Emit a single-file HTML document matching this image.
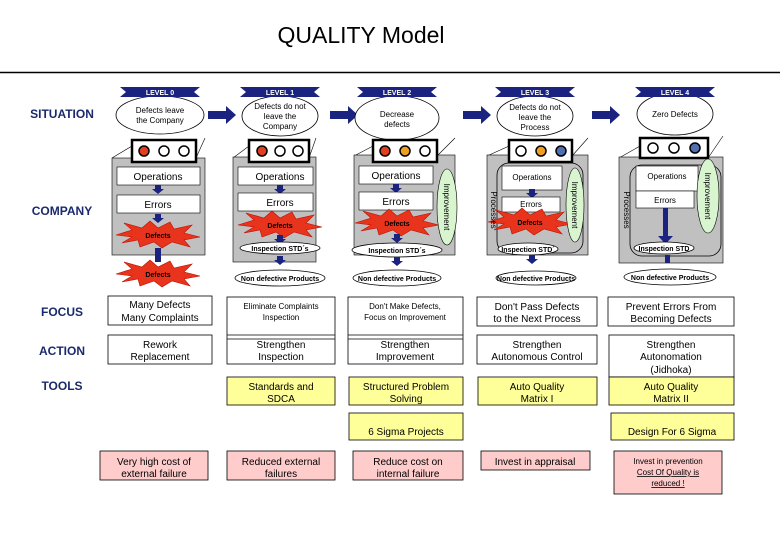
<!DOCTYPE html>
<html><head><meta charset="utf-8"><style>
html,body{margin:0;padding:0;background:#fff;}
svg{display:block;font-family:"Liberation Sans",sans-serif;}
.s{font-size:8px;fill:#000;text-anchor:middle;}
.m{font-size:10px;fill:#000;text-anchor:middle;}
.b{font-size:7px;font-weight:bold;fill:#000;text-anchor:middle;}
.lv{font-size:7px;font-weight:bold;fill:#fff;text-anchor:middle;}
.lab{font-size:12px;font-weight:bold;fill:#1a2a6c;text-anchor:middle;}
</style></head><body>
<svg width="780" height="540" viewBox="0 0 780 540">
<defs>
<polygon id="star" points="-42,0 -26,-5 -34,-12 -16,-7 -8,-14 0,-7 12,-13 16,-6 34,-10 26,-2 42,2 26,5 32,12 14,7 4,13 -4,7 -18,12 -20,5 -36,8 -26,2" fill="#e8341c" stroke="#c01000" stroke-width="0.6"/>
<polygon id="rib" points="-40,0 40,0 34,5 40,10 -40,10 -34,5" fill="#1a2480"/>
<polygon id="arr" points="0,-4 18,-4 18,-9 28,0 18,9 18,4 0,4" fill="#1a2480"/>
<polygon id="dn" points="-3,0 3,0 3,4 6,4 0,9 -6,4 -3,4" fill="#1a2480"/>
</defs>
<text x="361" y="43" font-size="23" text-anchor="middle" fill="#000">QUALITY Model</text>
<line x1="0" y1="72.5" x2="780" y2="72.5" stroke="#000" stroke-width="1.5"/>

<text class="lab" x="62" y="118">SITUATION</text>
<text class="lab" x="62" y="215">COMPANY</text>
<text class="lab" x="62" y="316">FOCUS</text>
<text class="lab" x="62" y="355">ACTION</text>
<text class="lab" x="62" y="390">TOOLS</text>

<use href="#arr" x="208" y="115"/>
<use href="#arr" x="330" y="115"/>
<use href="#arr" x="463" y="115"/>
<use href="#arr" x="592" y="115"/>

<!-- LEVEL 0 -->
<ellipse cx="160" cy="115" rx="44" ry="19" fill="#fff" stroke="#000" stroke-width="0.8"/>
<use href="#rib" x="160" y="87"/><text class="lv" x="160" y="95">LEVEL 0</text>
<text class="s" x="160" y="113">Defects leave</text><text class="s" x="160" y="123">the Company</text>
<line x1="112" y1="158" x2="132" y2="146" stroke="#000" stroke-width="0.6"/>
<line x1="196" y1="158" x2="205" y2="138" stroke="#000" stroke-width="0.6"/>
<rect x="112" y="158" width="93" height="97" fill="#c0c0c0" stroke="#000" stroke-width="0.6"/>
<rect x="132" y="140" width="64" height="22" fill="#fff" stroke="#000" stroke-width="2.5"/>
<circle cx="144" cy="151" r="5" fill="#e04020" stroke="#000" stroke-width="1.5"/>
<circle cx="164" cy="151" r="5" fill="#fff" stroke="#000" stroke-width="1.5"/>
<circle cx="184" cy="151" r="5" fill="#fff" stroke="#000" stroke-width="1.5"/>
<rect x="117" y="167" width="83" height="18" fill="#fff" stroke="#000" stroke-width="0.6"/><text class="m" x="158" y="180">Operations</text>
<use href="#dn" x="158" y="185"/>
<rect x="117" y="195" width="83" height="18" fill="#fff" stroke="#000" stroke-width="0.6"/><text class="m" x="158" y="208">Errors</text>
<use href="#dn" x="158" y="214"/>
<use href="#star" x="158" y="235"/>
<text class="b" x="158" y="238">Defects</text>
<rect x="155" y="248" width="6" height="14" fill="#1a2480"/>
<use href="#star" x="158" y="274"/>
<text class="b" x="158" y="277">Defects</text>

<!-- LEVEL 1 -->
<ellipse cx="280" cy="116" rx="38" ry="20" fill="#fff" stroke="#000" stroke-width="0.8"/>
<use href="#rib" x="280" y="87"/><text class="lv" x="280" y="95">LEVEL 1</text>
<text class="s" x="280" y="109">Defects do not</text><text class="s" x="280" y="119">leave the</text><text class="s" x="280" y="129">Company</text>
<line x1="233" y1="158" x2="249" y2="146" stroke="#000" stroke-width="0.6"/>
<line x1="309" y1="158" x2="316" y2="138" stroke="#000" stroke-width="0.6"/>
<rect x="233" y="157" width="83" height="105" fill="#c0c0c0" stroke="#000" stroke-width="0.6"/>
<rect x="249" y="140" width="60" height="22" fill="#fff" stroke="#000" stroke-width="2.5"/>
<circle cx="262" cy="151" r="5" fill="#e04020" stroke="#000" stroke-width="1.5"/>
<circle cx="280" cy="151" r="5" fill="#fff" stroke="#000" stroke-width="1.5"/>
<circle cx="298" cy="151" r="5" fill="#fff" stroke="#000" stroke-width="1.5"/>
<rect x="238" y="167" width="75" height="18" fill="#fff" stroke="#000" stroke-width="0.6"/><text class="m" x="280" y="180">Operations</text>
<use href="#dn" x="280" y="185"/>
<rect x="238" y="193" width="75" height="18" fill="#fff" stroke="#000" stroke-width="0.6"/><text class="m" x="280" y="206">Errors</text>
<use href="#star" x="280" y="225"/><text class="b" x="280" y="228">Defects</text>
<use href="#dn" x="280" y="235"/>
<ellipse cx="280" cy="248" rx="40" ry="6" fill="#fff" stroke="#000" stroke-width="0.8"/><text class="b" x="280" y="251">Inspection STD´s</text>
<use href="#dn" x="280" y="256"/>
<ellipse cx="280" cy="278" rx="45" ry="8" fill="#fff" stroke="#000" stroke-width="0.8"/><text class="b" x="280" y="281">Non defective Products</text>

<!-- LEVEL 2 -->
<ellipse cx="397" cy="118" rx="42" ry="22" fill="#fff" stroke="#000" stroke-width="0.8"/>
<use href="#rib" x="397" y="87"/><text class="lv" x="397" y="95">LEVEL 2</text>
<text class="s" x="397" y="117">Decrease</text><text class="s" x="397" y="127">defects</text>
<line x1="354" y1="156" x2="373" y2="146" stroke="#000" stroke-width="0.6"/>
<line x1="437" y1="156" x2="455" y2="138" stroke="#000" stroke-width="0.6"/>
<rect x="354" y="155" width="101" height="100" fill="#c0c0c0" stroke="#000" stroke-width="0.6"/>
<rect x="373" y="140" width="64" height="22" fill="#fff" stroke="#000" stroke-width="2.5"/>
<circle cx="385" cy="151" r="5" fill="#e04020" stroke="#000" stroke-width="1.5"/>
<circle cx="405" cy="151" r="5" fill="#f0a020" stroke="#000" stroke-width="1.5"/>
<circle cx="425" cy="151" r="5" fill="#fff" stroke="#000" stroke-width="1.5"/>
<rect x="359" y="166" width="74" height="18" fill="#fff" stroke="#000" stroke-width="0.6"/><text class="m" x="396" y="179">Operations</text>
<use href="#dn" x="396" y="184"/>
<rect x="359" y="192" width="74" height="18" fill="#fff" stroke="#000" stroke-width="0.6"/><text class="m" x="396" y="205">Errors</text>
<use href="#star" x="397" y="223"/><text class="b" x="397" y="226">Defects</text>
<use href="#dn" x="397" y="234"/>
<ellipse cx="447" cy="207" rx="10" ry="38" fill="#d8f5d0" stroke="#000" stroke-width="0.6"/>
<text class="s" transform="translate(444,207) rotate(90)">Improvement</text>
<ellipse cx="397" cy="250" rx="45" ry="7" fill="#fff" stroke="#000" stroke-width="0.8"/><text class="b" x="397" y="253">Inspection STD´s</text>
<use href="#dn" x="397" y="257"/>
<ellipse cx="397" cy="278" rx="44" ry="8" fill="#fff" stroke="#000" stroke-width="0.8"/><text class="b" x="397" y="281">Non defective Products</text>

<!-- LEVEL 3 -->
<ellipse cx="535" cy="116" rx="38" ry="20" fill="#fff" stroke="#000" stroke-width="0.8"/>
<use href="#rib" x="535" y="87"/><text class="lv" x="535" y="95">LEVEL 3</text>
<text class="s" x="535" y="110">Defects do not</text><text class="s" x="535" y="120">leave the</text><text class="s" x="535" y="130">Process</text>
<line x1="487" y1="156" x2="509" y2="146" stroke="#000" stroke-width="0.6"/>
<line x1="572" y1="156" x2="588" y2="138" stroke="#000" stroke-width="0.6"/>
<rect x="487" y="155" width="101" height="100" fill="#c0c0c0" stroke="#000" stroke-width="0.6"/>
<rect x="497" y="163" width="86" height="90" rx="12" fill="none" stroke="#000" stroke-width="0.8"/>
<rect x="509" y="140" width="63" height="22" fill="#fff" stroke="#000" stroke-width="2.5"/>
<circle cx="521" cy="151" r="5" fill="#fff" stroke="#000" stroke-width="1.5"/>
<circle cx="541" cy="151" r="5" fill="#f0a020" stroke="#000" stroke-width="1.5"/>
<circle cx="561" cy="151" r="5" fill="#5070b0" stroke="#000" stroke-width="1.5"/>
<rect x="502" y="166" width="60" height="24" fill="#fff" stroke="#000" stroke-width="0.6"/><text class="s" x="532" y="180">Operations</text>
<use href="#dn" x="532" y="189"/>
<rect x="502" y="197" width="58" height="15" fill="#fff" stroke="#000" stroke-width="0.6"/><text class="s" x="531" y="207">Errors</text>
<use href="#star" x="530" y="222"/><text class="b" x="530" y="225">Defects</text>
<ellipse cx="575" cy="205" rx="9" ry="37" fill="#d8f5d0" stroke="#000" stroke-width="0.6"/>
<text class="s" transform="translate(572,205) rotate(90)">Improvement</text>
<text class="s" transform="translate(491,210) rotate(90)">Processes</text>
<ellipse cx="528" cy="249" rx="30" ry="6" fill="#fff" stroke="#000" stroke-width="0.8"/><text class="b" x="528" y="252">Inspection STD´</text>
<use href="#dn" x="532" y="255"/>
<ellipse cx="536" cy="278" rx="40" ry="7" fill="#fff" stroke="#000" stroke-width="0.8"/><text class="b" x="536" y="281">Non defective Products</text>

<!-- LEVEL 4 -->
<ellipse cx="675" cy="114" rx="38" ry="21" fill="#fff" stroke="#000" stroke-width="0.8"/>
<use href="#rib" x="675" y="87"/><text class="lv" x="675" y="95">LEVEL 4</text>
<text class="s" x="675" y="117">Zero Defects</text>
<line x1="619" y1="158" x2="640" y2="146" stroke="#000" stroke-width="0.6"/>
<line x1="708" y1="158" x2="723" y2="136" stroke="#000" stroke-width="0.6"/>
<rect x="619" y="157" width="104" height="106" fill="#c0c0c0" stroke="#000" stroke-width="0.6"/>
<rect x="630" y="165" width="91" height="91" rx="12" fill="none" stroke="#000" stroke-width="0.8"/>
<rect x="640" y="138" width="68" height="20" fill="#fff" stroke="#000" stroke-width="2.5"/>
<circle cx="653" cy="148" r="5" fill="#fff" stroke="#000" stroke-width="1.5"/>
<circle cx="674" cy="148" r="5" fill="#fff" stroke="#000" stroke-width="1.5"/>
<circle cx="695" cy="148" r="5" fill="#5070b0" stroke="#000" stroke-width="1.5"/>
<rect x="636" y="166" width="62" height="25" fill="#fff" stroke="#000" stroke-width="0.6"/><text class="s" x="667" y="179">Operations</text>
<rect x="636" y="191" width="58" height="17" fill="#fff" stroke="#000" stroke-width="0.6"/><text class="s" x="665" y="203">Errors</text>
<rect x="663" y="208" width="5" height="30" fill="#1a2480"/><polygon points="658,236 673,236 665.5,244" fill="#1a2480"/>
<ellipse cx="708" cy="196" rx="11" ry="37" fill="#d8f5d0" stroke="#000" stroke-width="0.6"/>
<text class="s" transform="translate(705,196) rotate(90)">Improvement</text>
<text class="s" transform="translate(624,210) rotate(90)">Processes</text>
<ellipse cx="664" cy="248" rx="30" ry="6" fill="#fff" stroke="#000" stroke-width="0.8"/><text class="b" x="664" y="251">Inspection STD</text>
<rect x="665" y="255" width="5" height="8" fill="#1a2480"/>
<ellipse cx="670" cy="277" rx="46" ry="8" fill="#fff" stroke="#000" stroke-width="0.8"/><text class="b" x="670" y="280">Non defective Products</text>

<!-- TABLE -->
<g stroke="#000" stroke-width="0.8">
<rect x="108" y="296" width="104" height="29" fill="#fff"/>
<rect x="108" y="335" width="104" height="29" fill="#fff"/>
<rect x="227" y="297" width="108" height="67" fill="#fff"/><line x1="227" y1="335" x2="335" y2="335"/><line x1="227" y1="339" x2="335" y2="339"/>
<rect x="348" y="297" width="115" height="67" fill="#fff"/><line x1="348" y1="335" x2="463" y2="335"/><line x1="348" y1="339" x2="463" y2="339"/>
<rect x="477" y="297" width="120" height="29" fill="#fff"/>
<rect x="477" y="335" width="120" height="29" fill="#fff"/>
<rect x="608" y="297" width="126" height="29" fill="#fff"/>
<rect x="609" y="335" width="125" height="42" fill="#fff"/>
<rect x="227" y="377" width="108" height="28" fill="#ffff99"/>
<rect x="349" y="377" width="114" height="28" fill="#ffff99"/>
<rect x="478" y="377" width="119" height="28" fill="#ffff99"/>
<rect x="609" y="377" width="125" height="28" fill="#ffff99"/>
<rect x="349" y="413" width="114" height="27" fill="#ffff99"/>
<rect x="611" y="413" width="123" height="27" fill="#ffff99"/>
<rect x="100" y="451" width="108" height="29" fill="#ffcccc"/>
<rect x="227" y="451" width="108" height="29" fill="#ffcccc"/>
<rect x="353" y="451" width="110" height="29" fill="#ffcccc"/>
<rect x="481" y="451" width="109" height="19" fill="#ffcccc"/>
<rect x="614" y="451" width="108" height="43" fill="#ffcccc"/>
</g>
<g>
<text class="m" x="160" y="308">Many Defects</text><text class="m" x="160" y="321">Many Complaints</text>
<text class="m" x="160" y="348">Rework</text><text class="m" x="160" y="360">Replacement</text>
<text class="s" x="281" y="309">Eliminate Complaints</text><text class="s" x="281" y="320">Inspection</text>
<text class="m" x="281" y="348">Strengthen</text><text class="m" x="281" y="360">Inspection</text>
<text class="s" x="405" y="309">Don't Make Defects,</text><text class="s" x="405" y="320">Focus on Improvement</text>
<text class="m" x="405" y="348">Strengthen</text><text class="m" x="405" y="360">Improvement</text>
<text class="m" x="537" y="310">Don't Pass Defects</text><text class="m" x="537" y="322">to the Next Process</text>
<text class="m" x="537" y="348">Strengthen</text><text class="m" x="537" y="360">Autonomous Control</text>
<text class="m" x="671" y="310">Prevent Errors From</text><text class="m" x="671" y="322">Becoming Defects</text>
<text class="m" x="671" y="348">Strengthen</text><text class="m" x="671" y="360">Autonomation</text><text class="m" x="671" y="373">(Jidhoka)</text>
<text class="m" x="281" y="390">Standards and</text><text class="m" x="281" y="402">SDCA</text>
<text class="m" x="406" y="390">Structured Problem</text><text class="m" x="406" y="402">Solving</text>
<text class="m" x="537" y="390">Auto Quality</text><text class="m" x="537" y="402">Matrix I</text>
<text class="m" x="671" y="390">Auto Quality</text><text class="m" x="671" y="402">Matrix II</text>
<text class="m" x="406" y="435">6 Sigma Projects</text>
<text class="m" x="672" y="435">Design For 6 Sigma</text>
<text class="m" x="154" y="465">Very high cost of</text><text class="m" x="154" y="477">external failure</text>
<text class="m" x="281" y="465">Reduced external</text><text class="m" x="281" y="477">failures</text>
<text class="m" x="408" y="465">Reduce cost on</text><text class="m" x="408" y="477">internal failure</text>
<text class="m" x="535" y="465">Invest in appraisal</text>
<text class="s" x="668" y="464">Invest in prevention</text>
<text class="s" x="668" y="475" text-decoration="underline">Cost Of Quality is</text>
<text class="s" x="668" y="486" text-decoration="underline">reduced !</text>
</g>
</svg>
</body></html>
